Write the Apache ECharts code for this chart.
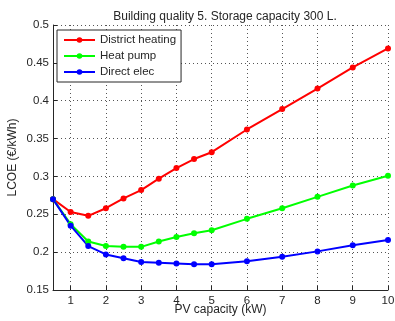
<!DOCTYPE html>
<html><head><meta charset="utf-8">
<script src="https://cdn.jsdelivr.net/npm/echarts@6/dist/echarts.min.js"></script>
<style>html,body{margin:0;padding:0;background:#fff}#c{width:395px;height:321px}</style>
</head><body><div id="c"></div>
<script>
const pvCapacity = [0.5, 1, 1.5, 2, 2.5, 3, 3.5, 4, 4.5, 5, 6, 7, 8, 9, 10];
const districtHeating = [0.270, 0.253, 0.248, 0.258, 0.271, 0.282, 0.297, 0.311, 0.323, 0.332, 0.362, 0.389, 0.416, 0.444, 0.469];
const heatPump = [0.270, 0.237, 0.214, 0.208, 0.207, 0.207, 0.214, 0.220, 0.225, 0.229, 0.244, 0.258, 0.273, 0.288, 0.301];
const directElec = [0.270, 0.235, 0.208, 0.197, 0.192, 0.187, 0.186, 0.185, 0.184, 0.184, 0.188, 0.194, 0.201, 0.209, 0.216];
const xTicks = [1, 2, 3, 4, 5, 6, 7, 8, 9, 10];
const seriesNames = ['District heating', 'Heat pump', 'Direct elec'];
const seriesColors = ['#ff0000', '#00ff00', '#0000ff'];

const font = 'Liberation Sans, Arial, sans-serif';
const txt = '#262626';
const pair = v => pvCapacity.map((x, i) => [x, v[i]]);
const allData = [districtHeating, heatPump, directElec];

const chart = echarts.init(document.getElementById('c'), null, {renderer: 'canvas'});
chart.setOption({
  animation: false,
  backgroundColor: '#fff',
  title: {
    text: 'Building quality 5. Storage capacity 300 L.',
    left: 220, top: 6, textAlign: 'center',
    textStyle: {fontFamily: font, fontSize: 12, fontWeight: 'normal', color: txt}
  },
  grid: {left: 53, right: 7, top: 25, bottom: 31, containLabel: false, outerBoundsMode: 'none'},
  legend: {
    orient: 'vertical', left: 57, top: 30,
    data: seriesNames,
    itemWidth: 31, itemHeight: 7, itemGap: 4,
    padding: [4, 5, 4, 6],
    borderColor: '#262626', borderWidth: 1, backgroundColor: '#fff',
    textStyle: {fontFamily: font, fontSize: 11.5, color: txt, lineHeight: 12}
  },
  xAxis: {
    type: 'value', min: 0.5, max: 10,
    name: 'PV capacity (kW)', nameLocation: 'middle', nameGap: 14, nameMoveOverlap: false,
    nameTextStyle: {fontFamily: font, fontSize: 12, color: txt},
    axisLine: {show: true, lineStyle: {color: txt, width: 1}},
    axisTick: {show: true, inside: true, length: 4, customValues: xTicks, lineStyle: {color: txt}},
    axisLabel: {customValues: xTicks, fontFamily: font, fontSize: 11.5, color: txt, margin: 5},
    splitLine: {show: true, lineStyle: {color: '#555', type: [1, 3], width: 1}}
  },
  yAxis: {
    type: 'value', min: 0.15, max: 0.5, interval: 0.05,
    name: 'LCOE (€/kWh)', nameLocation: 'middle', nameGap: 34, nameMoveOverlap: false,
    nameTextStyle: {fontFamily: font, fontSize: 12, color: txt},
    axisLine: {show: true, lineStyle: {color: txt, width: 1}},
    axisTick: {show: true, inside: true, length: 4, lineStyle: {color: txt}},
    axisLabel: {fontFamily: font, fontSize: 11.5, color: txt, margin: 4,
      formatter: v => String(+v.toFixed(2))},
    splitLine: {show: true, lineStyle: {color: '#555', type: [1, 3], width: 1}}
  },
  series: seriesNames.map((n, i) => ({
    name: n, type: 'line', data: pair(allData[i]),
    color: seriesColors[i],
    lineStyle: {width: 2, color: seriesColors[i]},
    itemStyle: {color: seriesColors[i]},
    symbol: 'circle', symbolSize: 6, showSymbol: true
  }))
});
</script></body></html>
